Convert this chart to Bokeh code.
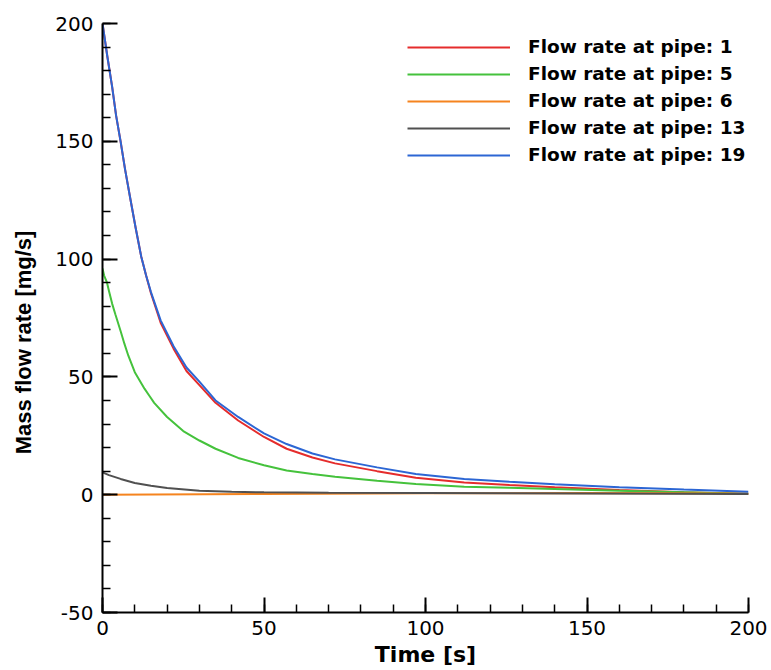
from bokeh.plotting import figure
from bokeh.models import Range1d, Legend, LegendItem, FixedTicker
from bokeh.embed import file_html
from bokeh.resources import INLINE

# ---- data ----
t_pipe1 = [0, 1.5, 3, 4.2, 5.6, 7, 8.7, 10.3, 12, 13.5, 15, 18, 22, 26, 30, 35, 42, 50, 57, 65, 72, 85, 97, 112, 126, 140, 160, 180, 200]
q_pipe1 = [200, 186, 173, 161, 150, 138, 125, 113, 101, 93, 85.5, 73, 62, 52.5, 46.5, 39, 31.5, 24.5, 19.5, 15.8, 13.3, 10, 7.2, 5.2, 4.1, 3.2, 2.0, 1.0, 0.3]

t_pipe5 = [0, 0.5, 1.4, 2, 3, 4, 5.6, 6.8, 8, 10, 11.5, 13, 14.5, 16, 20, 25, 30, 35, 42, 50, 57, 65, 72, 85, 97, 112, 126, 140, 160, 180, 200]
q_pipe5 = [96, 93, 90, 86.5, 81, 76.5, 69.5, 64, 59, 52, 48.5, 45, 42, 39, 33, 27, 23, 19.5, 15.6, 12.5, 10.3, 8.8, 7.6, 5.9, 4.5, 3.4, 2.9, 2.4, 1.7, 1.0, 0.4]

t_pipe6 = [0, 50, 100, 150, 200]
q_pipe6 = [0.0, 0.3, 0.6, 0.7, 0.5]

t_pipe13 = [0, 2, 5.6, 10, 15, 20, 30, 40, 50, 70, 100, 150, 200]
q_pipe13 = [9.5, 8.3, 6.7, 5.0, 3.8, 2.8, 1.7, 1.2, 1.0, 0.8, 0.7, 0.5, 0.3]

t_pipe19 = [0, 1.5, 3, 4.2, 5.6, 7, 8.7, 10.3, 12, 13.5, 15, 18, 22, 26, 30, 35, 42, 50, 57, 65, 72, 85, 97, 112, 126, 140, 160, 180, 200]
q_pipe19 = [200, 186, 173, 161, 150, 138, 125, 113, 101, 93, 86, 74, 63, 54, 48, 40, 33, 26, 21.5, 17.5, 15, 11.6, 8.8, 6.7, 5.5, 4.4, 3.2, 2.2, 1.3]

labels = ["Flow rate at pipe: 1", "Flow rate at pipe: 5", "Flow rate at pipe: 6",
          "Flow rate at pipe: 13", "Flow rate at pipe: 19"]
colors = ["#e52c2c", "#45c23c", "#f5841f", "#505050", "#2c66d4"]

x_ticks = [0, 50, 100, 150, 200]
y_ticks = [-50, 0, 50, 100, 150, 200]

p = figure(frame_width=646, frame_height=589, output_backend="svg", toolbar_location=None,
           x_range=Range1d(0, 200), y_range=Range1d(-50, 200),
           min_border_left=102, min_border_right=23, min_border_top=23, min_border_bottom=58)
p.outline_line_color = None
p.xgrid.visible = False
p.ygrid.visible = False
p.background_fill_color = "white"
p.border_fill_color = "white"

series = [(t_pipe1, q_pipe1), (t_pipe5, q_pipe5), (t_pipe6, q_pipe6),
          (t_pipe13, q_pipe13), (t_pipe19, q_pipe19)]
renderers = []
for (tt, qq), c in zip(series, colors):
    renderers.append(p.line(tt, qq, line_color=c, line_width=2))

p.xaxis.ticker = FixedTicker(ticks=x_ticks, minor_ticks=list(range(0, 201, 10)))
p.yaxis.ticker = FixedTicker(ticks=y_ticks, minor_ticks=list(range(-50, 201, 10)))
p.yaxis.major_label_overrides = {t: str(t) for t in y_ticks}

for ax in (p.xaxis[0], p.yaxis[0]):
    ax.axis_line_width = 2
    ax.axis_line_color = "black"
    ax.major_tick_line_width = 2
    ax.major_tick_line_color = "black"
    ax.minor_tick_line_width = 1.5
    ax.minor_tick_line_color = "black"
    ax.major_tick_in = 15
    ax.major_tick_out = 0
    ax.minor_tick_in = 8
    ax.minor_tick_out = 0
    ax.major_label_text_font = "DejaVu Sans"
    ax.major_label_text_font_size = "20px"
    ax.major_label_text_color = "black"
    ax.axis_label_text_font_style = "bold"
    ax.axis_label_text_color = "black"

p.xaxis.axis_label = "Time [s]"
p.xaxis.axis_label_text_font = "DejaVu Sans"
p.xaxis.axis_label_text_font_size = "22px"
p.xaxis.major_label_standoff = 8
p.xaxis.axis_label_standoff = 4

p.yaxis.axis_label = "Mass flow rate [mg/s]" + "\u00a0" * 8
p.yaxis.axis_label_text_font = "Liberation Sans"
p.yaxis.axis_label_text_font_size = "22px"
p.yaxis.major_label_standoff = 9
p.yaxis.axis_label_standoff = 16

legend = Legend(items=[LegendItem(label=l, renderers=[r]) for l, r in zip(labels, renderers)],
                location=(305, 447), border_line_color=None, background_fill_alpha=0,
                label_text_font="DejaVu Sans", label_text_font_style="bold",
                label_text_font_size="18.5px", label_text_color="black",
                glyph_width=103, glyph_height=20,
                label_height=20, spacing=6, padding=0, margin=0, label_standoff=18)
p.add_layout(legend)

open("out.html", "w").write(file_html(p, INLINE))
